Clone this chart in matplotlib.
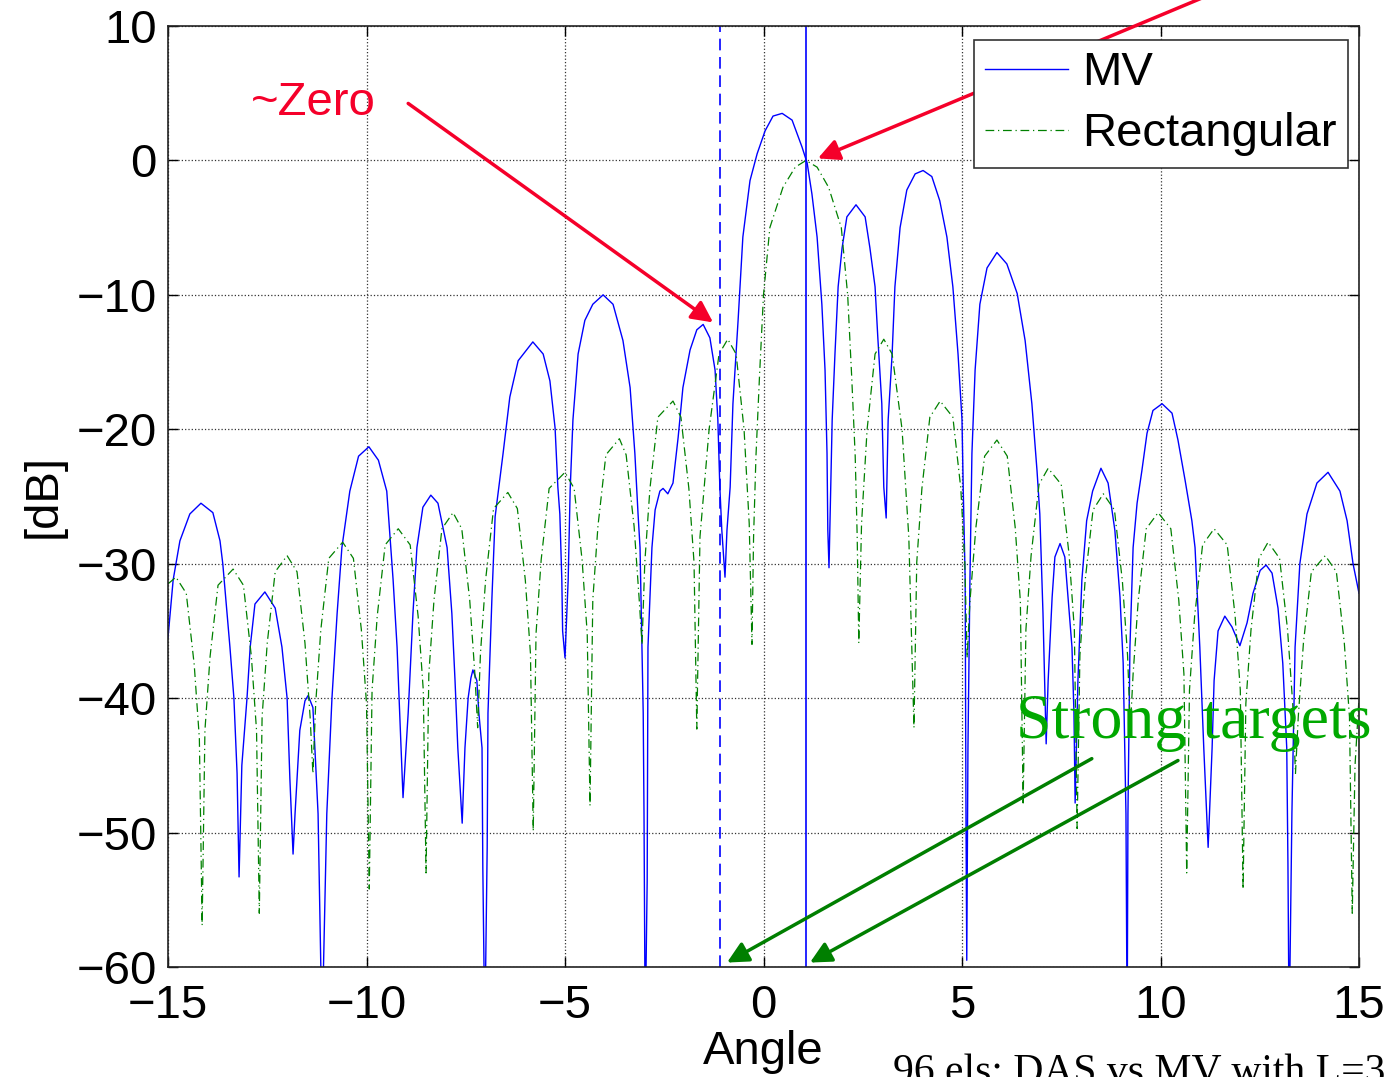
import numpy as np
import matplotlib
matplotlib.use("Agg")
import matplotlib.pyplot as plt

W, H = 1387, 1077

# MV beam pattern (angle in degrees, level in dB)
mv_angle = [-15.0, -14.87, -14.70, -14.45, -14.17, -13.87, -13.69, -13.62, -13.44, -13.34, -13.26, -13.21,
            -13.14, -13.01, -12.93, -12.81, -12.56, -12.30, -12.13, -12.0, -11.93, -11.85,
            -11.80, -11.68, -11.55, -11.47, -11.35, -11.30, -11.22, -11.12,
            -11.0, -10.87, -10.74, -10.62, -10.42, -10.2, -9.94, -9.7, -9.49, -9.33, -9.23, -9.13, -9.08,
            -8.95, -8.83, -8.73, -8.58, -8.38, -8.20, -7.97, -7.85, -7.77, -7.70, -7.59,
            -7.52, -7.44, -7.37, -7.32, -7.22, -7.17, -7.09, -7.07, -7.02,
            -6.96, -6.94, -6.84, -6.76, -6.56, -6.39, -6.18, -5.81, -5.55, -5.38, -5.25, -5.18, -5.13, -5.08, -5.06, -5.00,
            -4.92, -4.87, -4.80, -4.67, -4.50, -4.30, -4.04, -3.79, -3.54, -3.36, -3.24, -3.16, -3.11, -3.03, -3.01, -2.98,
            -2.93, -2.91, -2.81, -2.73, -2.61, -2.53, -2.41, -2.28, -2.15, -2.03, -1.85, -1.68, -1.52, -1.35, -1.22, -1.15, -1.10, -1.05, -0.97,
            -0.92, -0.84, -0.77, -0.64, -0.52, -0.34, -0.16, 0.04, 0.24, 0.47, 0.72, 0.97, 1.10, 1.22, 1.35, 1.47, 1.55, 1.60, 1.62, 1.65,
            1.73, 1.80, 1.88, 1.98, 2.10, 2.33, 2.56, 2.68, 2.81, 2.88, 2.98, 3.03, 3.09,
            3.14, 3.24, 3.31, 3.44, 3.61, 3.82, 4.02, 4.24, 4.44, 4.62, 4.77, 4.90, 5.0, 5.03, 5.08, 5.10, 5.12,
            5.15, 5.20, 5.25, 5.33, 5.45, 5.63, 5.88, 6.13, 6.39, 6.59, 6.76, 6.89, 6.96, 7.04, 7.12,
            7.17, 7.27, 7.34, 7.47, 7.59, 7.67, 7.77, 7.82, 7.85,
            7.92, 8.02, 8.14, 8.29, 8.50, 8.68, 8.85, 8.98, 9.06, 9.13, 9.16,
            9.18, 9.23, 9.31, 9.41, 9.53, 9.66, 9.81, 10.04, 10.29, 10.44, 10.62, 10.79, 10.87, 10.99, 11.09, 11.20,
            11.30, 11.35, 11.45, 11.62, 11.80, 12.0, 12.18, 12.33, 12.51, 12.66, 12.81, 12.96, 13.08, 13.18, 13.21, 13.24,
            13.31, 13.39, 13.51, 13.69, 13.94, 14.22, 14.52, 14.70, 14.85, 15.0]
mv_db = [-35.5, -31.2, -28.3, -26.3, -25.5, -26.2, -28.3, -30.0, -36.2, -40.0, -45.6, -53.3,
         -45.0, -40.0, -36.2, -33.0, -32.1, -33.3, -36.2, -40.0, -46.0, -51.6,
         -48.6, -42.4, -40.2, -39.8, -40.7, -43.7, -48.6, -65.0,
         -48.6, -40.0, -33.7, -28.8, -24.6, -22.0, -21.3, -22.3, -24.6, -31.2, -36.2, -43.7, -47.4,
         -41.1, -33.7, -28.8, -25.8, -24.9, -25.5, -28.8, -33.7, -38.7, -43.7, -49.3,
         -43.7, -40.0, -38.5, -37.9, -38.7, -41.1, -43.7, -52.6, -65.0,
         -51.1, -41.1, -32.5, -26.5, -21.8, -17.6, -14.9, -13.5, -14.4, -16.4, -19.9, -24.3, -26.3, -31.2, -35.0, -37.0,
         -31.2, -24.5, -19.3, -14.4, -11.9, -10.7, -10.0, -10.7, -13.4, -16.9, -21.8, -26.3, -28.8, -41.1, -48.6, -65.0,
         -53.6, -36.2, -28.8, -26.0, -24.6, -24.4, -24.8, -24.0, -20.6, -16.9, -14.1, -12.6, -12.2, -13.2, -15.6, -19.3, -24.3, -27.5, -31.0,
         -27.5, -24.3, -18.1, -11.9, -5.7, -1.5, 0.5, 2.2, 3.3, 3.5, 3.0, 1.0, -0.2, -2.5, -5.7, -10.7, -15.6, -21.8, -27.5, -30.3,
         -19.3, -14.4, -9.4, -6.5, -4.2, -3.3, -4.2, -6.5, -9.4, -13.2, -18.1, -24.3, -26.6,
         -19.3, -14.4, -9.4, -5.0, -2.2, -1.0, -0.75, -1.2, -3.0, -5.7, -9.4, -14.4, -19.3, -24.3, -31.2, -48.6, -59.5,
         -43.7, -31.2, -21.8, -15.6, -10.7, -8.0, -6.85, -7.7, -9.9, -13.4, -18.1, -23.1, -26.3, -33.7, -43.4,
         -38.7, -32.5, -29.5, -28.5, -29.5, -32.5, -36.2, -41.1, -47.8,
         -38.7, -31.2, -26.8, -24.6, -22.9, -24.0, -27.5, -32.5, -37.4, -48.6, -65.0,
         -48.6, -36.2, -28.8, -25.5, -23.1, -20.3, -18.6, -18.1, -18.8, -20.8, -23.8, -26.8, -28.8, -36.2, -43.7, -51.1,
         -43.7, -38.7, -35.0, -33.9, -34.7, -36.1, -34.4, -32.2, -30.5, -30.1, -30.7, -33.3, -37.4, -43.7, -52.3, -65.0,
         -48.6, -36.2, -30.0, -26.3, -24.0, -23.2, -24.6, -26.8, -30.0, -32.2]

# rectangular (DAS) window pattern
rect_angle = [-15.0, -14.8, -14.54, -14.34, -14.21, -14.14,
              -14.07, -13.94, -13.74, -13.36, -13.1, -12.9, -12.77, -12.7,
              -12.63, -12.5, -12.3, -12.0, -11.75, -11.55, -11.42, -11.35,
              -11.28, -11.15, -10.95, -10.6, -10.33, -10.13, -10.0, -9.93,
              -9.86, -9.73, -9.53, -9.2, -8.9, -8.7, -8.57, -8.5,
              -8.43, -8.3, -8.1, -7.82, -7.6, -7.4, -7.27, -7.2,
              -7.13, -7.0, -6.8, -6.44, -6.2, -6.0, -5.87, -5.8,
              -5.73, -5.6, -5.4, -5.0, -4.77, -4.57, -4.44, -4.37,
              -4.3, -4.17, -3.97, -3.63, -3.46, -3.26, -3.13, -3.06,
              -2.99, -2.86, -2.66, -2.28, -2.08, -1.88, -1.75, -1.68,
              -1.60, -1.37, -1.12, -0.9, -0.69, -0.49, -0.36, -0.29,
              -0.25, -0.19, -0.1, 0.0, 0.16, 0.49, 0.8, 1.07, 1.35, 1.64, 1.96, 2.12, 2.22, 2.31, 2.36, 2.40,
              2.47, 2.61, 2.81, 3.03, 3.24, 3.49, 3.66, 3.79,
              3.86, 3.99, 4.19, 4.45, 4.77, 4.97, 5.07, 5.13,
              5.2, 5.35, 5.57, 5.88, 6.14, 6.34, 6.47, 6.54,
              6.61, 6.74, 6.94, 7.17, 7.5, 7.7, 7.83, 7.9,
              7.97, 8.1, 8.3, 8.56, 8.84, 9.04, 9.17, 9.24,
              9.31, 9.44, 9.64, 9.94, 10.26, 10.46, 10.59, 10.66,
              10.73, 10.86, 11.06, 11.35, 11.68, 11.88, 12.01, 12.08,
              12.15, 12.28, 12.48, 12.71, 13.0, 13.2, 13.33, 13.4,
              13.47, 13.6, 13.8, 14.15, 14.43, 14.63, 14.76, 14.83,
              14.9, 15.0]
rect_db = [-31.5, -31.0, -32.2, -37.5, -43.0, -56.9,
           -42.4, -36.9, -31.6, -30.4, -31.6, -36.9, -42.4, -56.0,
           -41.4, -35.9, -30.6, -29.4, -30.6, -35.9, -41.4, -45.6,
           -40.4, -34.9, -29.6, -28.4, -29.6, -34.9, -40.4, -54.2,
           -39.4, -33.9, -28.6, -27.4, -28.6, -33.9, -39.4, -53.0,
           -38.2, -32.7, -27.4, -26.2, -27.4, -32.7, -38.2, -42.2,
           -36.7, -31.2, -25.9, -24.7, -25.9, -31.2, -36.7, -49.9,
           -35.2, -29.7, -24.4, -23.2, -24.4, -29.7, -35.2, -48.0,
           -32.7, -27.2, -21.9, -20.7, -21.9, -27.2, -32.7, -36.0,
           -29.9, -24.4, -19.1, -17.9, -19.1, -24.4, -29.9, -42.3,
           -28.0, -20.0, -14.4, -13.3, -14.4, -20.0, -27.0, -36.0,
           -28.0, -22.0, -16.0, -10.0, -5.0, -2.0, -0.5, 0.0, -0.5, -2.0, -5.0, -10.0, -16.0, -22.0, -28.0, -35.9,
           -27.0, -20.0, -14.4, -13.3, -14.4, -20.0, -28.0, -42.2,
           -29.9, -24.4, -19.1, -17.9, -19.1, -24.4, -29.9, -37.0,
           -32.8, -27.3, -22.0, -20.8, -22.0, -27.3, -32.8, -47.8,
           -34.9, -29.4, -24.1, -22.9, -24.1, -29.4, -34.9, -49.7,
           -36.8, -31.3, -26.0, -24.8, -26.0, -31.3, -36.8, -42.2,
           -38.2, -32.7, -27.4, -26.2, -27.4, -32.7, -38.2, -53.0,
           -39.4, -33.9, -28.6, -27.4, -28.6, -33.9, -39.4, -54.2,
           -40.4, -34.9, -29.6, -28.4, -29.6, -34.9, -40.4, -45.6,
           -41.4, -35.9, -30.6, -29.4, -30.6, -35.9, -41.4, -56.0,
           -45.0, -40.0]

# strong target directions (vertical lines)
target_angles = [-1.1, 1.07]

x_ticks = [-15, -10, -5, 0, 5, 10, 15]
y_ticks = [-60, -50, -40, -30, -20, -10, 0, 10]

plt.rcParams['font.family'] = ['Liberation Sans', 'DejaVu Sans']

fig = plt.figure(figsize=(W / 100, H / 100), dpi=100)
ax = fig.add_axes([168 / W, 1 - 967 / H, (1359 - 168) / W, (967 - 26) / H])

ax.plot(mv_angle, mv_db, color='#0000ff', lw=1.0, label='MV')
ax.plot(rect_angle, rect_db, color='#008000', lw=0.9,
        linestyle=(0, (7, 3, 1, 3)), label='Rectangular')
ax.axvline(target_angles[0], color='#0000ff', lw=1.2, linestyle=(0, (7, 4)))
ax.axvline(target_angles[1], color='#0000ff', lw=1.2)

ax.set_xlim(-15, 15)
ax.set_ylim(-60, 10)
ax.set_xticks(x_ticks)
ax.set_yticks(y_ticks)
ax.grid(True, linestyle=':', color='#333333', lw=0.9)
ax.tick_params(direction='in', length=7, width=1, top=True, right=True,
               labelsize=34, pad=12)
ax.tick_params(axis='y', pad=8)
for s in ax.spines.values():
    s.set_linewidth(1.2)
    s.set_color('#222222')

ax.set_xlabel('Angle', fontsize=34, labelpad=2)
ax.set_ylabel('[dB]', fontsize=34, labelpad=8)

leg = ax.legend(loc='upper right', bbox_to_anchor=(0.9908, 0.9851), fontsize=34,
                fancybox=False, framealpha=1, edgecolor='#333333',
                handlelength=1.75, handletextpad=0.3, labelspacing=0.36,
                borderpad=0.24, borderaxespad=0)
leg.get_frame().set_linewidth(1.2)

red = '#f5002a'
ax.text(-12.9, 3.4, '~Zero', color=red, fontsize=34, va='baseline')
ax.annotate('', xy=(-1.27, -12.05), xytext=(-8.95, 4.24),
            arrowprops=dict(arrowstyle='-|>', color=red, lw=2.5,
                            mutation_scale=32, shrinkA=0, shrinkB=0))
ax.annotate('', xy=(1.37, 0.15), xytext=(12.76, 14.2), annotation_clip=False,
            arrowprops=dict(arrowstyle='-|>', color=red, lw=2.5,
                            mutation_scale=32, shrinkA=0, shrinkB=0))

green = '#007f00'
ax.text(6.35, -43.0, 'Strong targets', color='#00a800', fontsize=46,
        family=['Liberation Serif', 'DejaVu Serif'], va='baseline', clip_on=False)
ax.annotate('', xy=(-0.92, -59.67), xytext=(8.27, -44.5),
            arrowprops=dict(arrowstyle='-|>', color=green, lw=2.5,
                            mutation_scale=32, shrinkA=0, shrinkB=0))
ax.annotate('', xy=(1.17, -59.67), xytext=(10.44, -44.64),
            arrowprops=dict(arrowstyle='-|>', color=green, lw=2.5,
                            mutation_scale=32, shrinkA=0, shrinkB=0))

# caption sits partly below the figure edge, as in the source slide
fig.text(893 / W, 1 - 1083 / H, '96 els: DAS vs MV with L=32', fontsize=30,
         family=['Liberation Serif', 'DejaVu Serif'], va='baseline')

fig.savefig('out.png', dpi=100)
